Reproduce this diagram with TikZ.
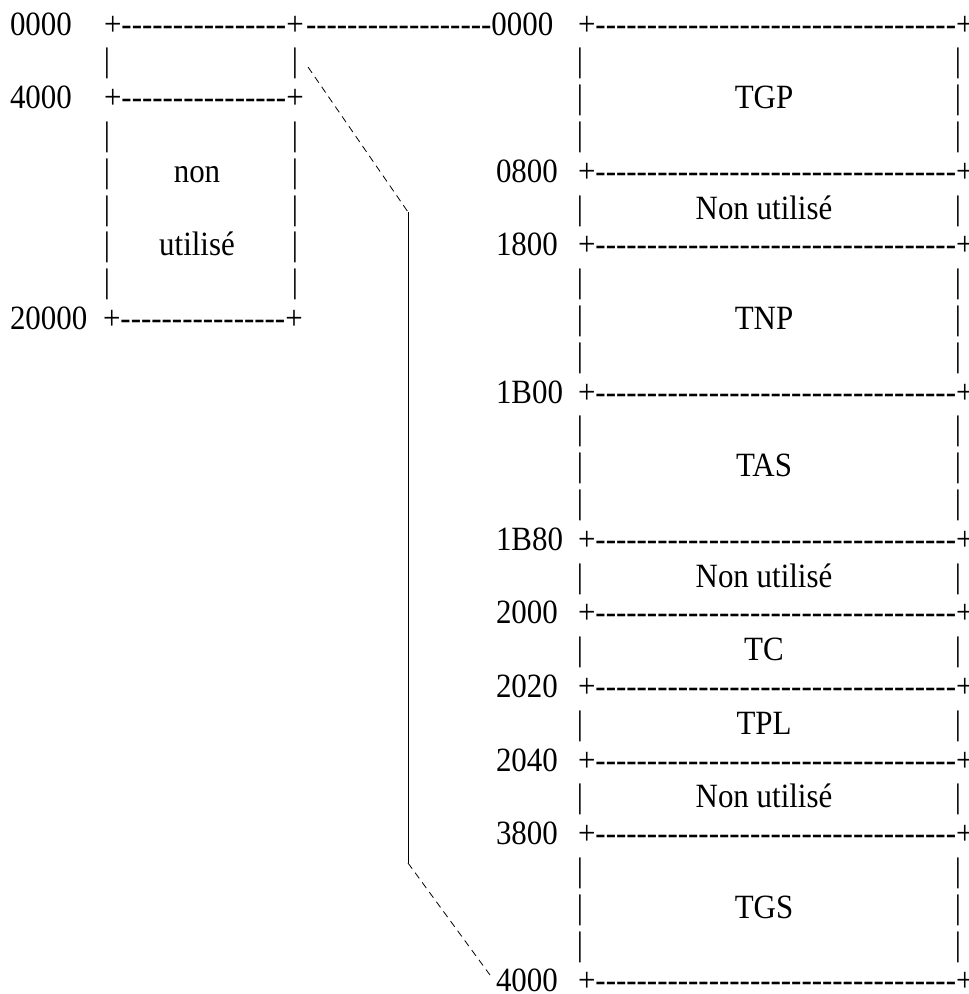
\documentclass[tikz,border=0pt]{standalone}
\usepackage{fontspec}
\setmainfont{Liberation Serif}[Ligatures=TeXOff]
\ExplSyntaxOn
\cs_new:Npn \dashrun #1 { \prg_replicate:nn {#1} {-} }
\ExplSyntaxOff
\begin{document}
\begin{tikzpicture}[x=1pt,y=-1pt,
  every node/.style={inner sep=0pt,outer sep=0pt,transform shape,xscale=0.91,
    font=\fontsize{34}{40}\selectfont},
  addr/.style={anchor=base west},
  rule/.style={anchor=base west},
  bar/.style={anchor=base},
  lbl/.style={anchor=base},
  link/.style={line width=0.8pt,dash pattern=on 7pt off 5pt},
  spine/.style={line width=0.9pt}]
\useasboundingbox[fill=white] (0,0) rectangle (969,994);
\def\rowy#1{35+36.8*#1}

% ---- left column: 0000 .. 20000
\node[addr] (l0)  at (10,{\rowy{0}}) {0000};
\node[addr] (l2)  at (10,{\rowy{2}}) {4000};
\node[addr] (l8)  at (10,{\rowy{8}}) {20000};
\node[rule] (lr0) at (104,{\rowy{0}}) {+\dashrun{16}+};
\node[rule] (lr2) at (104,{\rowy{2}}) {+\dashrun{16}+};
\node[rule] (lr8) at (103,{\rowy{8}}) {+\dashrun{16}+};
\node[rule] (bridge) at (306,{\rowy{0}}) {\dashrun{18}};
\foreach \r in {1,3,4,5,6,7}{
  \node[bar] (lbl\r) at (107,{\rowy{\r}}) {|};
  \node[bar] (lbr\r) at (295,{\rowy{\r}}) {|};
}
\node[lbl] (non) at (197,{\rowy{4}}) {non};
\node[lbl] (util) at (197,{\rowy{6}}) {utilisé};

% ---- right column: 0000 .. 4000
\node[addr] (ra0) at (bridge.base east) {0000};
\node[rule] (rr0) at (578,{\rowy{0}}) {+\dashrun{35}+};
\foreach \r/\a in {4/0800,6/1800,10/1B00,14/1B80,16/2000,18/2020,20/2040,22/3800,26/4000}{
  \node[addr] (ra\r) at (496,{\rowy{\r}}) {\a};
  \node[rule] (rr\r) at (578,{\rowy{\r}}) {+\dashrun{35}+};
}
\foreach \r in {1,2,3,5,7,8,9,11,12,13,15,17,19,21,23,24,25}{
  \node[bar] (rbl\r) at (580,{\rowy{\r}}) {|};
  \node[bar] (rbr\r) at (958,{\rowy{\r}}) {|};
}
\foreach \r/\t in {2/TGP,5/Non utilisé,8/TNP,12/TAS,15/Non utilisé,17/TC,19/TPL,21/Non utilisé,24/TGS}{
  \node[lbl] (seg\r) at (764,{\rowy{\r}}) {\t};
}

% ---- zoom lines from the left block to the right map
\coordinate (z1) at (308,67);
\coordinate (z2) at (408,212);
\coordinate (z3) at (408,863);
\coordinate (z4) at (490,975);
\draw[link] (z1) -- (z2);
\draw[spine] (z2) -- (z3);
\draw[link] (z3) -- (z4);
\end{tikzpicture}
\end{document}
